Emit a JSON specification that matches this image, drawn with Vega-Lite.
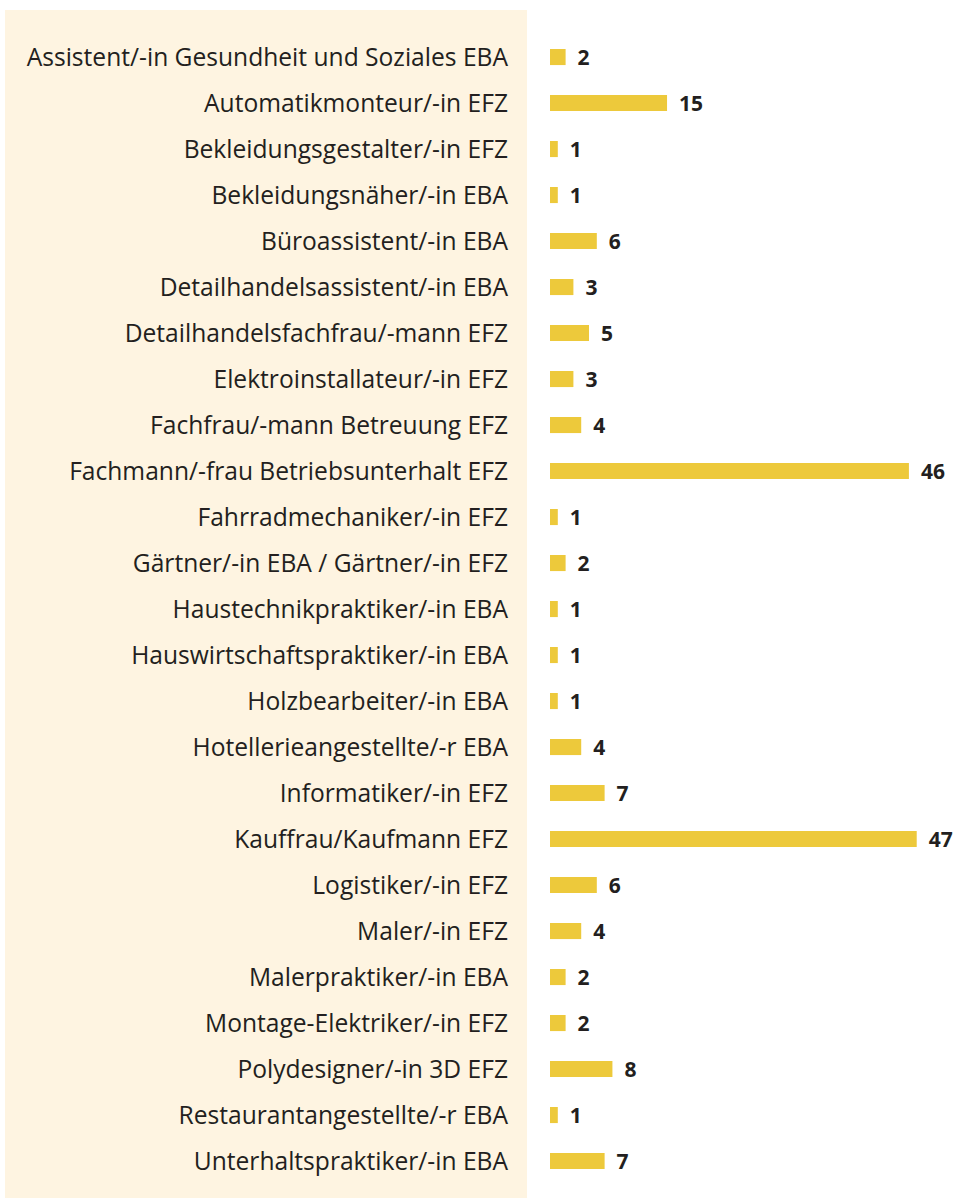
{
  "$schema": "https://vega.github.io/schema/vega-lite/v6.json",
  "background": "white",
  "padding": {"left": 5, "top": 10, "right": 0, "bottom": 0},
  "spacing": 23,
  "config": {
    "view": {"stroke": null},
    "font": "Open Sans"
  },
  "data": {
    "values": [
      {"name": "Assistent/-in Gesundheit und Soziales EBA", "value": 2},
      {"name": "Automatikmonteur/-in EFZ", "value": 15},
      {"name": "Bekleidungsgestalter/-in EFZ", "value": 1},
      {"name": "Bekleidungsnäher/-in EBA", "value": 1},
      {"name": "Büroassistent/-in EBA", "value": 6},
      {"name": "Detailhandelsassistent/-in EBA", "value": 3},
      {"name": "Detailhandelsfachfrau/-mann EFZ", "value": 5},
      {"name": "Elektroinstallateur/-in EFZ", "value": 3},
      {"name": "Fachfrau/-mann Betreuung EFZ", "value": 4},
      {"name": "Fachmann/-frau Betriebsunterhalt EFZ", "value": 46},
      {"name": "Fahrradmechaniker/-in EFZ", "value": 1},
      {"name": "Gärtner/-in EBA / Gärtner/-in EFZ", "value": 2},
      {"name": "Haustechnikpraktiker/-in EBA", "value": 1},
      {"name": "Hauswirtschaftspraktiker/-in EBA", "value": 1},
      {"name": "Holzbearbeiter/-in EBA", "value": 1},
      {"name": "Hotellerieangestellte/-r EBA", "value": 4},
      {"name": "Informatiker/-in EFZ", "value": 7},
      {"name": "Kauffrau/Kaufmann EFZ", "value": 47},
      {"name": "Logistiker/-in EFZ", "value": 6},
      {"name": "Maler/-in EFZ", "value": 4},
      {"name": "Malerpraktiker/-in EBA", "value": 2},
      {"name": "Montage-Elektriker/-in EFZ", "value": 2},
      {"name": "Polydesigner/-in 3D EFZ", "value": 8},
      {"name": "Restaurantangestellte/-r EBA", "value": 1},
      {"name": "Unterhaltspraktiker/-in EBA", "value": 7}
    ]
  },
  "hconcat": [
    {
      "width": 522,
      "height": 1188,
      "view": {"fill": "#FEF4E1", "stroke": null},
      "mark": {"type": "text", "align": "right", "baseline": "middle", "fontSize": 24.6, "color": "#231F20", "dx": -19, "dy": 2},
      "encoding": {
        "y": {
          "field": "name", "type": "nominal", "sort": null,
          "scale": {"type": "band", "paddingInner": 0.65, "paddingOuter": 0.738, "align": 0.574},
          "axis": null
        },
        "x": {"datum": 1, "type": "quantitative", "scale": {"domain": [0, 1]}, "axis": null},
        "text": {"field": "name"}
      }
    },
    {
      "width": 419,
      "height": 1188,
      "layer": [
        {
          "mark": {"type": "bar", "color": "#EDC93B"},
          "encoding": {
            "y": {
              "field": "name", "type": "nominal", "sort": null,
              "scale": {"type": "band", "paddingInner": 0.65, "paddingOuter": 0.738, "align": 0.574},
              "axis": null
            },
            "x": {"field": "value", "type": "quantitative", "scale": {"domain": [0, 53.7], "nice": false}, "axis": null}
          }
        },
        {
          "mark": {"type": "text", "align": "left", "baseline": "middle", "fontSize": 21, "fontWeight": "bold", "color": "#231F20", "dx": 12, "dy": 2},
          "encoding": {
            "y": {"field": "name", "type": "nominal", "sort": null, "axis": null},
            "x": {"field": "value", "type": "quantitative"},
            "text": {"field": "value"}
          }
        }
      ]
    }
  ],
  "resolve": {"scale": {"x": "independent", "y": "independent"}}
}
